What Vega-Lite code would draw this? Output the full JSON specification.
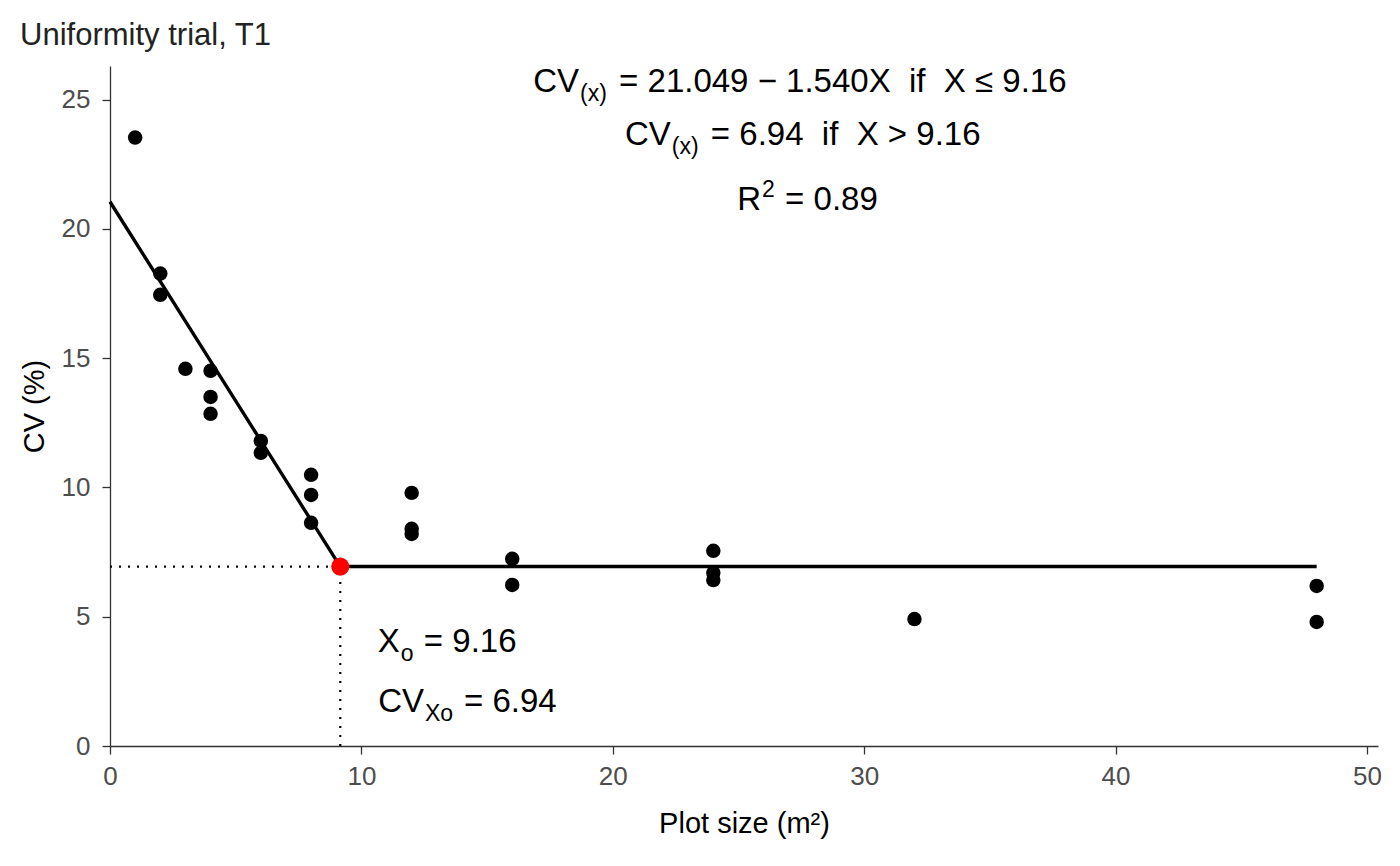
{
  "$schema": "https://vega.github.io/schema/vega-lite/v6.json",
  "width": 1268,
  "height": 680,
  "autosize": {"type": "none"},
  "padding": {"left": 110, "top": 66, "right": 22, "bottom": 120},
  "background": "white",
  "config": {
    "font": "Liberation Sans",
    "view": {"stroke": null},
    "axis": {
      "grid": false,
      "domainColor": "#333333",
      "domainWidth": 1.3,
      "tickColor": "#333333",
      "tickWidth": 1.3,
      "tickSize": 8,
      "labelColor": "#4d4d4d",
      "labelFontSize": 26,
      "labelFont": "Liberation Sans",
      "labelFlush": false,
      "titleFont": "Liberation Sans",
      "titleFontSize": 29,
      "titleFontWeight": "normal",
      "titleColor": "#000000"
    }
  },
  "title": {
    "text": "Uniformity trial, T1",
    "anchor": "start",
    "frame": "bounds",
    "fontSize": 31,
    "fontWeight": "normal",
    "color": "#222222",
    "font": "Liberation Sans",
    "offset": 14
  },
  "datasets": {
    "points": [
      {"size": 1, "cv": 23.53},
      {"size": 2, "cv": 18.27},
      {"size": 2, "cv": 17.45},
      {"size": 3, "cv": 14.59},
      {"size": 4, "cv": 14.51},
      {"size": 4, "cv": 13.5},
      {"size": 4, "cv": 12.85},
      {"size": 6, "cv": 11.8},
      {"size": 6, "cv": 11.34},
      {"size": 8, "cv": 10.49},
      {"size": 8, "cv": 9.71},
      {"size": 8, "cv": 8.63},
      {"size": 12, "cv": 9.79},
      {"size": 12, "cv": 8.4},
      {"size": 12, "cv": 8.2},
      {"size": 16, "cv": 7.24},
      {"size": 16, "cv": 6.23},
      {"size": 24, "cv": 7.55},
      {"size": 24, "cv": 6.7},
      {"size": 24, "cv": 6.42},
      {"size": 32, "cv": 4.91},
      {"size": 48, "cv": 6.19},
      {"size": 48, "cv": 4.8}
    ],
    "fit": [
      {"size": 0, "cv": 21.049},
      {"size": 9.16, "cv": 6.94},
      {"size": 48, "cv": 6.94}
    ],
    "guides": [
      {"x1": 0, "x2": 9.16, "y1": 6.94, "y2": 6.94},
      {"x1": 9.16, "x2": 9.16, "y1": 0, "y2": 6.94}
    ],
    "joint": [{"size": 9.16, "cv": 6.94}],
    "pieces": [
      {"tx": 18.66, "ty": 25.77, "role": "head", "label": "CV"},
      {"tx": 18.66, "ty": 25.77, "role": "sub", "label": "(x)"},
      {"tx": 18.66, "ty": 25.77, "role": "tail", "label": "= 21.049 − 1.540X\u00a0\u00a0if\u00a0\u00a0X ≤ 9.16"},
      {"tx": 22.31, "ty": 23.72, "role": "head", "label": "CV"},
      {"tx": 22.31, "ty": 23.72, "role": "sub", "label": "(x)"},
      {"tx": 22.31, "ty": 23.72, "role": "tail", "label": "= 6.94\u00a0\u00a0if\u00a0\u00a0X > 9.16"},
      {"tx": 25.9, "ty": 21.2, "role": "head", "label": "R"},
      {"tx": 25.9, "ty": 21.2, "role": "sup", "label": "2"},
      {"tx": 25.9, "ty": 21.2, "role": "tailsup", "label": "= 0.89"},
      {"tx": 11.53, "ty": 4.1, "role": "head", "label": "X"},
      {"tx": 11.53, "ty": 4.1, "role": "subo", "label": "o"},
      {"tx": 11.53, "ty": 4.1, "role": "tailo", "label": "= 9.16"},
      {"tx": 12.49, "ty": 1.78, "role": "head", "label": "CV"},
      {"tx": 12.49, "ty": 1.78, "role": "sub", "label": "Xo"},
      {"tx": 12.49, "ty": 1.78, "role": "tail", "label": "= 6.94"}
    ]
  },
  "layer": [
    {
      "data": {"name": "guides"},
      "mark": {"type": "rule", "strokeDash": [2, 7], "strokeWidth": 2.2, "color": "black"},
      "encoding": {
        "x": {"field": "x1", "type": "quantitative", "scale": {"domain": [0, 50.44], "nice": false, "zero": false}},
        "x2": {"field": "x2"},
        "y": {"field": "y1", "type": "quantitative", "scale": {"domain": [0, 26.3], "nice": false}},
        "y2": {"field": "y2"}
      }
    },
    {
      "data": {"name": "fit"},
      "mark": {"type": "line", "color": "black", "strokeWidth": 3.4},
      "encoding": {
        "x": {"field": "size", "type": "quantitative"},
        "y": {"field": "cv", "type": "quantitative"}
      }
    },
    {
      "data": {"name": "points"},
      "mark": {"type": "circle", "color": "black", "opacity": 1, "size": 210},
      "encoding": {
        "x": {"field": "size", "type": "quantitative", "title": "Plot size (m²)", "axis": {"values": [0, 10, 20, 30, 40, 50], "labelPadding": 9, "titlePadding": 20}},
        "y": {"field": "cv", "type": "quantitative", "title": "CV (%)", "axis": {"values": [0, 5, 10, 15, 20, 25], "labelPadding": 12, "titlePadding": 12}}
      }
    },
    {
      "data": {"name": "joint"},
      "mark": {"type": "circle", "color": "#ff0000", "opacity": 1, "size": 330},
      "encoding": {
        "x": {"field": "size", "type": "quantitative"},
        "y": {"field": "cv", "type": "quantitative"}
      }
    },
    {
      "data": {"name": "pieces"},
      "transform": [{"filter": "datum.role === 'head'"}],
      "mark": {"type": "text", "fontSize": 33, "align": "right", "baseline": "alphabetic", "dy": 12, "color": "black", "font": "Liberation Sans"},
      "encoding": {
        "x": {"field": "tx", "type": "quantitative"},
        "y": {"field": "ty", "type": "quantitative"},
        "text": {"field": "label"}
      }
    },
    {
      "data": {"name": "pieces"},
      "transform": [{"filter": "datum.role === 'sub' || datum.role === 'subo'"}],
      "mark": {"type": "text", "fontSize": 23, "align": "left", "baseline": "alphabetic", "dx": 1, "dy": 21, "color": "black", "font": "Liberation Sans"},
      "encoding": {
        "x": {"field": "tx", "type": "quantitative"},
        "y": {"field": "ty", "type": "quantitative"},
        "text": {"field": "label"}
      }
    },
    {
      "data": {"name": "pieces"},
      "transform": [{"filter": "datum.role === 'sup'"}],
      "mark": {"type": "text", "fontSize": 23, "align": "left", "baseline": "alphabetic", "dx": 1, "dy": -1, "color": "black", "font": "Liberation Sans"},
      "encoding": {
        "x": {"field": "tx", "type": "quantitative"},
        "y": {"field": "ty", "type": "quantitative"},
        "text": {"field": "label"}
      }
    },
    {
      "data": {"name": "pieces"},
      "transform": [{"filter": "datum.role === 'tail'"}],
      "mark": {"type": "text", "fontSize": 33, "align": "left", "baseline": "alphabetic", "dx": 40, "dy": 12, "color": "black", "font": "Liberation Sans"},
      "encoding": {
        "x": {"field": "tx", "type": "quantitative"},
        "y": {"field": "ty", "type": "quantitative"},
        "text": {"field": "label"}
      }
    },
    {
      "data": {"name": "pieces"},
      "transform": [{"filter": "datum.role === 'tailsup' || datum.role === 'tailo'"}],
      "mark": {"type": "text", "fontSize": 33, "align": "left", "baseline": "alphabetic", "dx": 24, "dy": 12, "color": "black", "font": "Liberation Sans"},
      "encoding": {
        "x": {"field": "tx", "type": "quantitative"},
        "y": {"field": "ty", "type": "quantitative"},
        "text": {"field": "label"}
      }
    }
  ]
}
